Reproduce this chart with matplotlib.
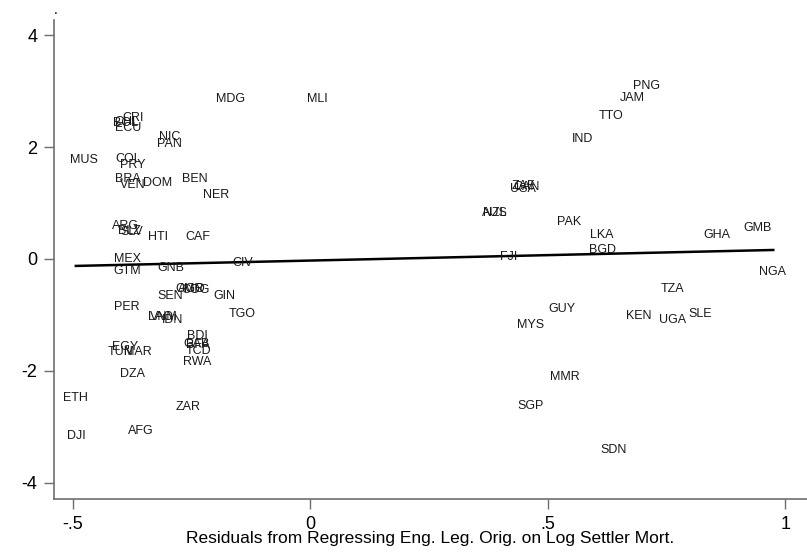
import matplotlib
matplotlib.use("Agg")
import matplotlib.pyplot as plt

plt.rcParams["font.family"] = ["Liberation Sans", "DejaVu Sans"]
plt.rcParams["axes.unicode_minus"] = False

# country codes and label anchor positions (x residual, y residual)
codes = [
    "MDG", "MLI", "CRI", "BOL", "CHL", "ECU", "NIC", "PAN", "MUS", "COL",
    "PRY", "BRA", "VEN", "DOM", "BEN", "NER", "ARG", "SLV", "BLZ", "HTI",
    "CAF", "MEX", "GTM", "GNB", "CIV", "CMR", "AGO", "COG", "SEN", "GIN",
    "PER", "TGO", "LAO", "VNM", "IDN", "BDI", "GAB", "BFA", "TCD", "RWA",
    "EGY", "TUN", "MAR", "DZA", "ETH", "ZAR", "DJI", "AFG",
    "ZAF", "CAN", "USA", "AUS", "NZL", "FJI", "PNG", "JAM", "TTO", "IND",
    "PAK", "LKA", "BGD", "GHA", "GMB", "NGA", "TZA", "GUY", "MYS", "KEN",
    "UGA", "SLE", "MMR", "SGP", "SDN",
]
x_vals = [
    -0.198, -0.006, -0.396, -0.415, -0.412, -0.410, -0.318, -0.322, -0.505, -0.410,
    -0.400, -0.410, -0.400, -0.351, -0.270, -0.226, -0.417, -0.400, -0.405, -0.341,
    -0.263, -0.413, -0.413, -0.322, -0.164, -0.284, -0.278, -0.270, -0.322, -0.204,
    -0.413, -0.172, -0.341, -0.336, -0.312, -0.260, -0.267, -0.262, -0.262, -0.267,
    -0.417, -0.425, -0.392, -0.400, -0.520, -0.282, -0.512, -0.383,
    0.425, 0.427, 0.421, 0.362, 0.365, 0.400, 0.680, 0.653, 0.608, 0.551,
    0.520, 0.589, 0.587, 0.827, 0.912, 0.945, 0.739, 0.501, 0.436, 0.665,
    0.735, 0.796, 0.505, 0.436, 0.611,
]
y_vals = [
    2.86, 2.86, 2.52, 2.43, 2.45, 2.34, 2.18, 2.05, 1.77, 1.78,
    1.68, 1.43, 1.32, 1.35, 1.43, 1.14, 0.59, 0.48, 0.50, 0.39,
    0.39, 0.00, -0.21, -0.16, -0.08, -0.54, -0.54, -0.55, -0.67, -0.67,
    -0.86, -0.98, -1.04, -1.04, -1.09, -1.38, -1.52, -1.53, -1.64, -1.84,
    -1.57, -1.66, -1.66, -2.05, -2.48, -2.64, -3.16, -3.07,
    1.30, 1.29, 1.25, 0.82, 0.82, 0.04, 3.09, 2.88, 2.55, 2.14,
    0.66, 0.43, 0.16, 0.43, 0.55, -0.23, -0.54, -0.89, -1.18, -1.02,
    -1.09, -0.98, -2.11, -2.63, -3.41,
]

# fitted regression line end points
fit_x = [-0.493, 0.975]
fit_y = [-0.125, 0.160]

x_ticks = [-0.5, 0, 0.5, 1]
x_tick_labels = ["-.5", "0", ".5", "1"]
y_ticks = [-4, -2, 0, 2, 4]

fig = plt.figure(figsize=(8.07, 5.55), dpi=100)
ax = fig.add_axes([0.0669, 0.1009, 0.9331, 0.8631])

for code, x, y in zip(codes, x_vals, y_vals):
    ax.text(x, y, code, fontsize=9, color="#1a1a1a", ha="left", va="center")

ax.plot(fit_x, fit_y, color="black", linewidth=1.8)

ax.set_xlim(-0.539, 1.046)
ax.set_ylim(-4.29, 4.27)
ax.set_xticks(x_ticks)
ax.set_xticklabels(x_tick_labels)
ax.set_yticks(y_ticks)
ax.tick_params(axis="both", direction="out", length=7, width=1, color="#6e6e6e",
               labelsize=13, labelcolor="black", pad=5)

for side in ["top", "right"]:
    ax.spines[side].set_visible(False)
for side in ["left", "bottom"]:
    ax.spines[side].set_color("#6e6e6e")
    ax.spines[side].set_linewidth(1.2)

ax.set_xlabel("Residuals from Regressing Eng. Leg. Orig. on Log Settler Mort.",
              fontsize=12.5, labelpad=-1)

fig.text(0.069, 0.995, ".", fontsize=10, ha="center", va="top")

fig.savefig("out.png", dpi=100)
